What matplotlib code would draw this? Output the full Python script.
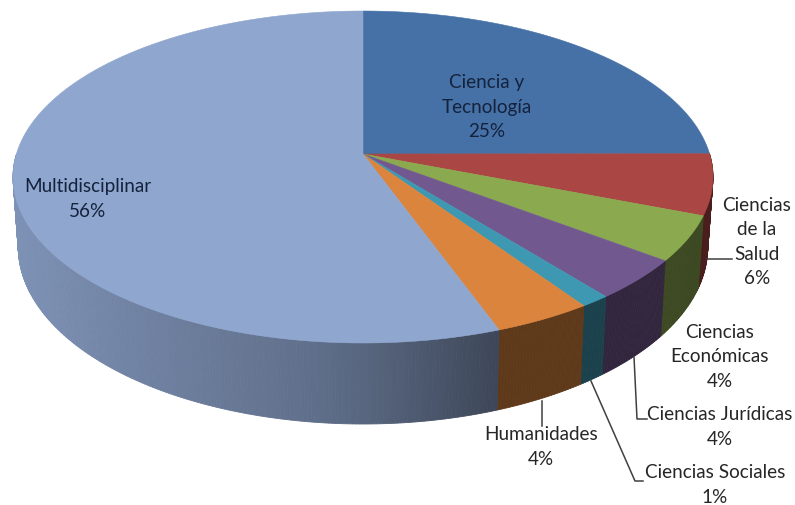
import matplotlib
matplotlib.use('agg')
import matplotlib.pyplot as plt
import numpy as np

# slices clockwise from 12 o'clock, sizes (labels are rounded)
categories = ["Ciencia y\nTecnología", "Ciencias\nde la\nSalud", "Ciencias\nEconómicas", "Ciencias Jurídicas",
              "Ciencias Sociales", "Humanidades", "Multidisciplinar"]
values = [25.0, 5.9, 4.4, 4.0, 1.2, 4.0, 55.6]
percent_labels = ["25%", "6%", "4%", "4%", "1%", "4%", "56%"]
top_colors = ["#4571A7", "#AA4643", "#8BA94F", "#71588F", "#3F98B2", "#DB843D", "#8FA6CF"]

# label centres and leader lines, in pixels
label_pos = [(487, 107), (757, 242), (720, 357), (720, 427), (715, 485), (541, 447), (88, 199)]
label_colors = ["#14223C", "#262626", "#262626", "#262626", "#262626", "#262626", "#14223C"]
leaders = [None, ([707, 732], [260, 260]), None, ([634, 637, 647], [358, 420, 420]),
           ([591, 635, 643], [382, 482, 482]), ([542, 542], [402, 427]), None]

# perspective of the pie
cx, cy = 363, 155
A, B, p = 346.6, 162.8, 0.1386

# darkening of the side wall going left to right
shade_x = [13, 130, 300, 360, 495, 713]
shade_f = [0.88, 0.79, 0.68, 0.62, 0.43, 0.43]


def project(t):
    w = 1 + p * np.sin(t)
    return cx + A * np.cos(t) / w, cy - B * np.sin(t) / w


def project_low(t):
    x, y = project(t)
    return cx + (x - cx) * 0.985, y + 70 + 11 * (y - 177) / 167


fig = plt.figure(figsize=(7.95, 5.06), dpi=100)
ax = fig.add_axes([0, 0, 1, 1])
ax.set_xlim(0, 795)
ax.set_ylim(506, 0)
ax.axis('off')

shares = np.array(values) / sum(values) * 2 * np.pi
ends = np.pi / 2 - np.cumsum(shares)
starts = ends + shares

# side wall first, the top covers whatever sticks out
for i in range(len(values)):
    ts = np.arange(ends[i], starts[i], np.radians(0.5))
    ts = np.append(ts, starts[i])
    rgb = np.array(matplotlib.colors.to_rgb(top_colors[i]))
    for t0, t1 in zip(ts[:-1], ts[1:]):
        if np.sin((t0 + t1) / 2) > 0:
            continue
        x0, y0 = project(t0)
        x1, y1 = project(t1)
        x2, y2 = project_low(t1)
        x3, y3 = project_low(t0)
        c = rgb * np.interp((x0 + x1) / 2, shade_x, shade_f)
        ax.fill([x0, x1, x2, x3], [y0, y1, y2, y3], color=c, lw=0.6, zorder=1)

for i in range(len(values)):
    ts = np.linspace(starts[i], ends[i], 200)
    x, y = project(ts)
    ax.fill(np.r_[cx, x], np.r_[cy, y], color=top_colors[i], lw=0.4, zorder=2)

for i, name in enumerate(categories):
    ax.text(label_pos[i][0], label_pos[i][1], name + "\n" + percent_labels[i], ha='center', va='center',
            fontsize=13.6, family='Lato', color=label_colors[i], linespacing=1.52, zorder=4)
    if leaders[i] is not None:
        ax.plot(leaders[i][0], leaders[i][1], color="#404040", lw=1.1, zorder=3)

plt.savefig('out.png', dpi=100)
